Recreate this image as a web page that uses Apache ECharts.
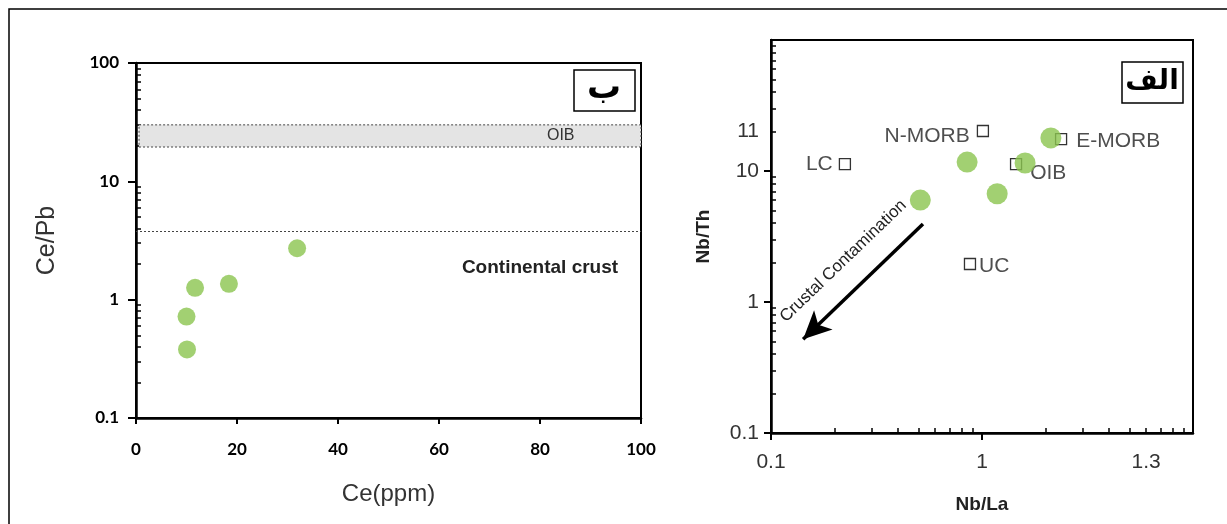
<!DOCTYPE html>
<html>
<head>
<meta charset="utf-8">
<script src="https://cdn.jsdelivr.net/npm/echarts@6/dist/echarts.min.js"></script>
<style>
  html, body { margin: 0; padding: 0; background: #fff; }
  #main { width: 1227px; height: 524px; }
</style>
</head>
<body>
<div id="main"></div>
<script>
// ---- left panel (ب): Ce vs Ce/Pb ----
const ceSamples = [10.1, 10.0, 11.7, 18.4, 31.9];
const cePbSamples = [0.38, 0.72, 1.26, 1.36, 2.72];
const oibBand = [19.5, 30];          // Ce/Pb range of OIB
const continentalCrust = 3.8;        // Ce/Pb of continental crust
const leftXTicks = [0, 20, 40, 60, 80, 100];

// ---- right panel (الف): Nb/La vs Nb/Th ----
const nbLaSamples = [0.51, 0.85, 1.18, 1.60, 2.12];
const nbThSamples = [6.0, 11.7, 6.7, 11.5, 17.9];
const refNames = ['LC', 'N-MORB', 'OIB', 'E-MORB', 'UC'];
const refNbLa = [0.224, 1.01, 1.45, 2.37, 0.877];
const refNbTh = [11.3, 20.2, 11.3, 17.5, 1.95];
const arrowFrom = [0.525, 3.94];
const arrowTo = [0.142, 0.52];

// tick positions on the log axes
const logMajor = [0.1, 1, 10, 100];
const logMinor = [0.2, 0.3, 0.4, 0.5, 0.6, 0.7, 0.8, 0.9,
                  2, 3, 4, 5, 6, 7, 8, 9,
                  20, 30, 40, 50, 60, 70, 80, 90];
const rightXLabels = { 0.1: '0.1', 1: '1', 6: '1.3' };
const rightYLabels = { 0.1: '0.1', 1: '1', 10: '10', 20: '11' };

const green = '#8bc44f';
const boldFont = 'Lato';
const plainFont = 'Liberation Sans';

const chart = echarts.init(document.getElementById('main'));

const minorAxis = (gridIndex, min, max, pos) => ({
    type: 'log', logBase: 10, gridIndex, min, max, position: pos,
    axisLine: { show: false },
    axisLabel: { show: false },
    splitLine: { show: false },
    axisTick: { show: true, inside: true, length: 5, customValues: logMinor,
        lineStyle: { color: '#000', width: 1.5 } }
});

const refLabel = {
    'LC': { position: 'left', distance: 6 },
    'N-MORB': { position: 'left', distance: 7, offset: [0, 5] },
    'OIB': { position: 'right', distance: 2, offset: [6, 9] },
    'E-MORB': { position: 'right', distance: 9, offset: [0, 2] },
    'UC': { position: 'right', distance: 3, offset: [0, 2] }
};

const option = {
    animation: false,
    backgroundColor: '#fff',
    grid: [
        { left: 136, top: 63, width: 505, height: 355, show: true,
          borderColor: '#000', borderWidth: 2, backgroundColor: 'transparent' },
        { left: 771, top: 40, width: 422, height: 393, show: true,
          borderColor: '#000', borderWidth: 2, backgroundColor: 'transparent' }
    ],
    xAxis: [
        {
            type: 'value', gridIndex: 0, min: 0, max: 100, interval: 20,
            name: 'Ce(ppm)', nameLocation: 'middle', nameGap: 64,
            nameTextStyle: { fontFamily: plainFont, fontSize: 24, color: '#333' },
            axisLine: { lineStyle: { color: '#000', width: 2.5 } },
            axisTick: { length: 6, lineStyle: { color: '#000', width: 2 } },
            axisLabel: { margin: 23, fontFamily: boldFont, fontWeight: 'bold', fontSize: 17, color: '#000',
                customValues: leftXTicks },
            splitLine: { show: false }
        },
        {
            type: 'log', logBase: 10, gridIndex: 1, min: 0.1, max: 10, position: 'bottom',
            name: 'Nb/La', nameLocation: 'middle', nameGap: 62,
            nameTextStyle: { fontFamily: plainFont, fontWeight: 'bold', fontSize: 19, color: '#222' },
            axisLine: { lineStyle: { color: '#000', width: 2.5 } },
            axisTick: { length: 7, customValues: [0.1, 1], lineStyle: { color: '#000', width: 2 } },
            axisLabel: { margin: 19, fontFamily: plainFont, fontSize: 21, color: '#333',
                customValues: [0.1, 1, 6],
                formatter: v => rightXLabels[+v.toPrecision(3)] || '' },
            splitLine: { show: false }
        },
        minorAxis(1, 0.1, 10, 'bottom')
    ],
    yAxis: [
        {
            type: 'log', logBase: 10, gridIndex: 0, min: 0.1, max: 100,
            name: 'Ce/Pb', nameLocation: 'middle', nameGap: 76,
            nameTextStyle: { fontFamily: plainFont, fontSize: 25, color: '#333' },
            axisLine: { lineStyle: { color: '#000', width: 2.5 } },
            axisTick: { length: 8, customValues: logMajor, lineStyle: { color: '#000', width: 2 } },
            axisLabel: { margin: 17, fontFamily: boldFont, fontWeight: 'bold', fontSize: 17, color: '#000',
                customValues: logMajor, formatter: v => String(+v.toPrecision(3)) },
            splitLine: { show: false }
        },
        minorAxis(0, 0.1, 100, 'left'),
        {
            type: 'log', logBase: 10, gridIndex: 1, min: 0.1, max: 100,
            name: 'Nb/Th', nameLocation: 'middle', nameGap: 58,
            nameTextStyle: { fontFamily: plainFont, fontWeight: 'bold', fontSize: 19, color: '#222' },
            axisLine: { lineStyle: { color: '#000', width: 2.5 } },
            axisTick: { length: 7, customValues: [0.1, 1, 10], lineStyle: { color: '#000', width: 2 } },
            axisLabel: { margin: 12, fontFamily: plainFont, fontSize: 21, color: '#333',
                customValues: [0.1, 1, 10, 20],
                formatter: v => rightYLabels[+v.toPrecision(3)] || '' },
            splitLine: { show: false }
        },
        minorAxis(1, 0.1, 100, 'left')
    ],
    series: [
        {
            name: 'Ce/Pb samples', type: 'scatter', xAxisIndex: 0, yAxisIndex: 0,
            symbolSize: 18, itemStyle: { color: green },
            data: ceSamples.map((x, i) => [x, cePbSamples[i]]),
            markArea: {
                silent: true,
                itemStyle: { color: '#e4e4e4', borderColor: '#444', borderWidth: 1, borderType: [2, 2] },
                label: { show: true, position: 'insideRight', offset: [-62, 0],
                    fontFamily: plainFont, fontSize: 16, color: '#333', formatter: 'OIB' },
                data: [[{ yAxis: oibBand[0], xAxis: 0.6 }, { yAxis: oibBand[1], xAxis: 100 }]]
            },
            markLine: {
                silent: true, symbol: 'none',
                lineStyle: { color: '#444', width: 1, type: [2, 2] },
                label: { show: false },
                data: [{ yAxis: continentalCrust }]
            },
            markPoint: {
                silent: true, symbol: 'circle', symbolSize: 2,
                itemStyle: { opacity: 0 },
                label: { show: true, position: 'inside', fontFamily: plainFont, fontWeight: 'bold',
                    fontSize: 19, color: '#222', opacity: 1, formatter: 'Continental crust' },
                data: [{ coord: [80, 1.85] }]
            }
        },
        {
            name: 'Nb samples', type: 'scatter', xAxisIndex: 1, yAxisIndex: 2,
            symbolSize: 21, itemStyle: { color: green }, z: 3,
            data: nbLaSamples.map((x, i) => [x, nbThSamples[i]]),
            markLine: {
                silent: true, symbol: ['none', 'arrow'], symbolSize: [20, 28],
                lineStyle: { color: '#000', width: 3.5, type: 'solid' },
                label: { show: true, position: 'middle', distance: 20,
                    fontFamily: plainFont, fontSize: 17, color: '#222',
                    formatter: 'Crustal Contamination' },
                data: [[{ coord: arrowFrom }, { coord: arrowTo }]]
            }
        },
        {
            name: 'references', type: 'scatter', xAxisIndex: 1, yAxisIndex: 2,
            symbol: 'rect', symbolSize: 11, z: 2,
            itemStyle: { color: '#fff', borderColor: '#000', borderWidth: 1.3 },
            label: { show: true, fontFamily: plainFont, fontSize: 21, color: '#222',
                formatter: p => p.name },
            data: refNames.map((n, i) => ({ name: n, value: [refNbLa[i], refNbTh[i]], label: refLabel[n] }))
        }
    ],
    graphic: [
        // outer frame (cropped on the right and bottom)
        { type: 'rect', shape: { x: 9, y: 9, width: 1400, height: 700 }, silent: true,
          style: { fill: 'none', stroke: '#000', lineWidth: 1.5 } },
        // panel letter boxes
        { type: 'rect', shape: { x: 574, y: 70, width: 61, height: 41 },
          style: { fill: '#fff', stroke: '#000', lineWidth: 1.5 } },
        { type: 'text', x: 604, y: 88, style: { text: 'ب', font: 'bold 34px "Noto Sans", "DejaVu Sans"',
          align: 'center', verticalAlign: 'middle', fill: '#000' } },
        { type: 'rect', shape: { x: 1122, y: 62, width: 61, height: 41 },
          style: { fill: '#fff', stroke: '#000', lineWidth: 1.5 } },
        { type: 'text', x: 1152, y: 82, style: { text: 'الف', font: 'bold 28px "DejaVu Sans", "Noto Sans"',
          align: 'center', verticalAlign: 'middle', fill: '#000' } }
    ]
};

chart.setOption(option);
</script>
</body>
</html>
